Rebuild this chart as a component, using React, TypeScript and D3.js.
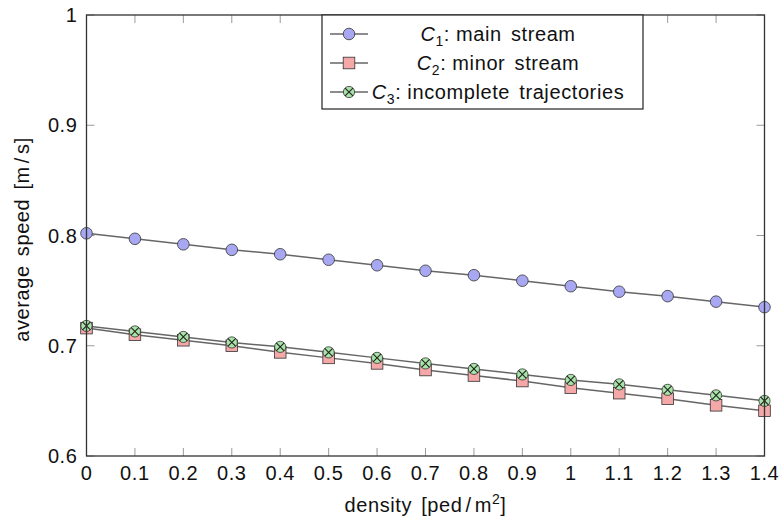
import React from "react";
import * as d3 from "d3";

// density values [ped/m^2]
const densities = [0, 0.1, 0.2, 0.3, 0.4, 0.5, 0.6, 0.7, 0.8, 0.9, 1.0, 1.1, 1.2, 1.3, 1.4];

// average speed [m/s] per cluster
const mainStream = [0.802, 0.797, 0.792, 0.787, 0.783, 0.778, 0.773, 0.768, 0.764, 0.759, 0.754, 0.749, 0.745, 0.740, 0.735];
const minorStream = [0.716, 0.710, 0.705, 0.700, 0.694, 0.689, 0.684, 0.678, 0.673, 0.668, 0.662, 0.657, 0.652, 0.646, 0.641];
const incomplete = [0.718, 0.713, 0.708, 0.703, 0.699, 0.694, 0.689, 0.684, 0.679, 0.674, 0.669, 0.665, 0.660, 0.655, 0.650];

const xTicks = [0, 0.1, 0.2, 0.3, 0.4, 0.5, 0.6, 0.7, 0.8, 0.9, 1, 1.1, 1.2, 1.3, 1.4];
const yTicks = [0.6, 0.7, 0.8, 0.9, 1];

const seriesNames = ["main stream", "minor stream", "incomplete trajectories"];
const seriesSubs = ["1", "2", "3"];

const W = 783;
const H = 521;
const M = { left: 86.5, right: 764.5, top: 15, bottom: 456 };
const FONT = "'Liberation Sans', Arial, sans-serif";

const fills = ["#a7a7f2", "#f5a8a8", "#a8e4a8"];

function Marker({ kind, x, y }: { kind: number; x: number; y: number }) {
  if (kind === 0) {
    return <circle cx={x} cy={y} r={5.8} fill={fills[0]} stroke="#333" strokeWidth={0.8} />;
  }
  if (kind === 1) {
    return <rect x={x - 5.8} y={y - 5.8} width={11.6} height={11.6} fill={fills[1]} stroke="#333" strokeWidth={0.8} />;
  }
  const r = 5.6;
  const d = r * Math.SQRT1_2;
  return (
    <g>
      <circle cx={x} cy={y} r={r} fill={fills[2]} stroke="#333" strokeWidth={0.8} />
      <path d={`M${x - d},${y - d}L${x + d},${y + d}M${x - d},${y + d}L${x + d},${y - d}`} stroke="#222" strokeWidth={1.1} />
    </g>
  );
}

export default function App() {
  const x = d3.scaleLinear().domain([0, 1.4]).range([M.left, M.right]);
  const y = d3.scaleLinear().domain([0.6, 1]).range([M.bottom, M.top]);
  const line = d3
    .line<number>()
    .x((_, i) => x(densities[i]))
    .y((v) => y(v));

  const series = [mainStream, minorStream, incomplete];
  const tickLen = 8;
  const fmt = (v: number) => String(+v.toFixed(1));

  const legend = { x0: 322, x1: 643, y0: M.top, y1: 109 };
  const rowY = [34, 63, 92];

  return (
    <svg width={W} height={H} style={{ position: "absolute", left: 0, top: 0 }} fontFamily={FONT}>
      <rect width={W} height={H} fill="#fff" />
      {/* ticks */}
      <g stroke="#9a9a9a" strokeWidth={1}>
        {xTicks.map((t) => (
          <g key={"x" + t}>
            <line x1={x(t)} x2={x(t)} y1={M.bottom} y2={M.bottom - tickLen} />
            <line x1={x(t)} x2={x(t)} y1={M.top} y2={M.top + tickLen} />
          </g>
        ))}
        {yTicks.map((t) => (
          <g key={"y" + t}>
            <line x1={M.left} x2={M.left + tickLen} y1={y(t)} y2={y(t)} />
            <line x1={M.right} x2={M.right - tickLen} y1={y(t)} y2={y(t)} />
          </g>
        ))}
      </g>

      {/* series */}
      {series.map((s, k) => (
        <path key={"l" + k} d={line(s) || ""} fill="none" stroke="#666" strokeWidth={1.5} />
      ))}
      {series.map((s, k) => (
        <g key={"m" + k}>
          {s.map((v, i) => (
            <Marker key={i} kind={k} x={x(densities[i])} y={y(v)} />
          ))}
        </g>
      ))}

      {/* frame */}
      <rect x={M.left} y={M.top} width={M.right - M.left} height={M.bottom - M.top} fill="none" stroke="#333" strokeWidth={1.3} />

      {/* tick labels */}
      <g fontSize={20} fill="#111" letterSpacing={0.6}>
        {xTicks.map((t) => (
          <text key={"xl" + t} x={x(t)} y={480} textAnchor="middle">
            {fmt(t)}
          </text>
        ))}
        {yTicks.map((t) => (
          <text key={"yl" + t} x={M.left - 9} y={y(t) + 7} textAnchor="end">
            {fmt(t)}
          </text>
        ))}
      </g>

      {/* axis labels */}
      <text x={(M.left + M.right) / 2} y={512} textAnchor="middle" fontSize={20} fill="#111" letterSpacing={0.6} wordSpacing={3}>
        density [ped
        <tspan dx={3}>/</tspan>
        <tspan dx={3}>m</tspan>
        <tspan dy={-8} fontSize={14}>2</tspan>
        <tspan dy={8}>]</tspan>
      </text>
      <text
        transform={`translate(29,${(M.top + M.bottom) / 2 + 4}) rotate(-90)`}
        textAnchor="middle"
        fontSize={20}
        fill="#111"
        letterSpacing={0.6}
        wordSpacing={3}
      >
        average speed [m
        <tspan dx={3}>/</tspan>
        <tspan dx={3}>s]</tspan>
      </text>

      {/* legend */}
      <rect x={legend.x0} y={legend.y0} width={legend.x1 - legend.x0} height={legend.y1 - legend.y0} fill="#fff" stroke="#222" strokeWidth={1.2} />
      {seriesNames.map((name, k) => (
        <g key={"lg" + k}>
          <line x1={330} x2={368} y1={rowY[k]} y2={rowY[k]} stroke="#666" strokeWidth={1.5} />
          <Marker kind={k} x={349} y={rowY[k]} />
          <text x={498} y={rowY[k] + 7} textAnchor="middle" fontSize={20} fill="#111" letterSpacing={0.6} wordSpacing={3}>
            <tspan fontStyle="italic">C</tspan>
            <tspan fontSize={14} dy={5}>{seriesSubs[k]}</tspan>
            <tspan dy={-5}>:</tspan>
            <tspan dx={6}>{name}</tspan>
          </text>
        </g>
      ))}
    </svg>
  );
}
